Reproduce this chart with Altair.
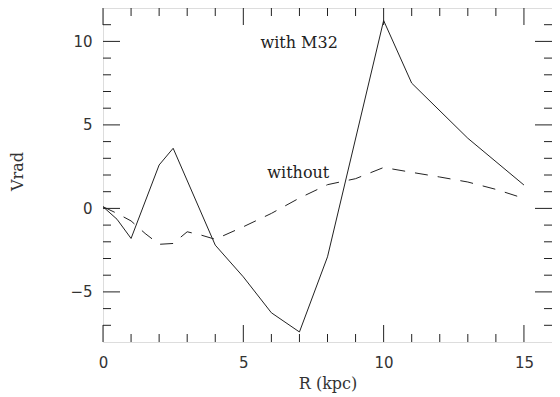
import altair as alt
import pandas as pd

# "with M32" (solid)
r_with = [0, 0.5, 1, 2, 2.5, 4, 5, 6, 7, 8, 10, 11, 13, 15]
v_with = [0.1, -0.65, -1.8, 2.6, 3.6, -2.2, -4.1, -6.25, -7.4, -2.9, 11.25, 7.5, 4.2, 1.4]

# "without" (dashed)
r_without = [0, 0.5, 1, 1.5, 2, 2.5, 3, 3.5, 4, 5, 6, 7, 8, 9, 10, 11, 12, 13, 14, 15]
v_without = [0.1, -0.3, -0.75, -1.5, -2.15, -2.1, -1.4, -1.6, -1.85, -1.1, -0.3, 0.62,
             1.42, 1.78, 2.45, 2.16, 1.88, 1.58, 1.14, 0.6]

x_major = [0, 5, 10, 15]
x_minor = [1, 2, 3, 4, 6, 7, 8, 9, 11, 12, 13, 14]
y_major = [-5, 0, 5, 10]
y_minor = [-7, -6, -4, -3, -2, -1, 1, 2, 3, 4, 6, 7, 8, 9, 11]

label_text = ["with M32", "without"]
label_r = [6.99, 6.96]
label_v = [9.9, 2.1]

W, H = 449, 334
SERIF = "DejaVu Serif"
SANS = "DejaVu Sans"
INK = "#222222"

xscale = alt.Scale(domain=[0, 16], nice=False, zero=False)
yscale = alt.Scale(domain=[-8, 12], nice=False, zero=False)

xaxis = alt.Axis(values=x_major, title="R (kpc)", ticks=False, domain=False, grid=False,
                 labelPadding=13, labelFlush=False, labelFont=SANS, labelFontSize=15,
                 labelColor="#333333", titleFont=SERIF, titleFontSize=16, titleFontWeight="normal",
                 titleColor="#333333", titlePadding=5, format="d")
yaxis = alt.Axis(values=y_major, title="Vrad", ticks=False, domain=False, grid=False,
                 labelPadding=11, labelFlush=False, labelFont=SANS, labelFontSize=15,
                 labelColor="#333333", titleFont=SERIF, titleFontSize=16, titleFontWeight="normal",
                 titleColor="#333333", titleX=-86, titleY=163, titleAlign="center",
                 titleBaseline="middle", titleAngle=270, format="d")

X = lambda f: alt.X(f, scale=xscale, axis=xaxis)
Y = lambda f: alt.Y(f, scale=yscale, axis=yaxis)

df_with = pd.DataFrame({"R": r_with, "V": v_with})
df_without = pd.DataFrame({"R": r_without, "V": v_without})
df_lab = pd.DataFrame({"R": label_r, "V": label_v, "t": label_text})

solid = alt.Chart(df_with).mark_line(color=INK, strokeWidth=1).encode(x=X("R:Q"), y=Y("V:Q"))
dashed = alt.Chart(df_without).mark_line(color=INK, strokeWidth=1, strokeDash=[13, 10]).encode(
    x=X("R:Q"), y=Y("V:Q"))
labels = alt.Chart(df_lab).mark_text(font=SERIF, fontSize=16, color="#222222",
                                     align="center", baseline="middle").encode(
    x=X("R:Q"), y=Y("V:Q"), text="t:N")

tick_layers = []
for vals, ln in [(x_major, 17), (x_minor, 8)]:
    d = pd.DataFrame({"R": vals})
    tick_layers.append(alt.Chart(d).mark_rule(color=INK, strokeWidth=1).encode(
        x=X("R:Q"), y=alt.value(H), y2=alt.value(H - ln)))
    tick_layers.append(alt.Chart(d).mark_rule(color=INK, strokeWidth=1).encode(
        x=X("R:Q"), y=alt.value(0), y2=alt.value(ln)))
for vals, ln in [(y_major, 17), (y_minor, 8)]:
    d = pd.DataFrame({"V": vals})
    tick_layers.append(alt.Chart(d).mark_rule(color=INK, strokeWidth=1).encode(
        y=Y("V:Q"), x=alt.value(0), x2=alt.value(ln)))
    tick_layers.append(alt.Chart(d).mark_rule(color=INK, strokeWidth=1).encode(
        y=Y("V:Q"), x=alt.value(W), x2=alt.value(W - ln)))

chart = alt.layer(solid, dashed, labels, *tick_layers).properties(
    width=W, height=H,
    autosize=alt.AutoSizeParams(type="none"),
    padding={"left": 95, "top": 0, "right": 0, "bottom": 55},
).configure_view(stroke=INK, strokeWidth=1).configure(background="white")

chart.save("out.html", embed_options={"renderer": "svg", "actions": False})
